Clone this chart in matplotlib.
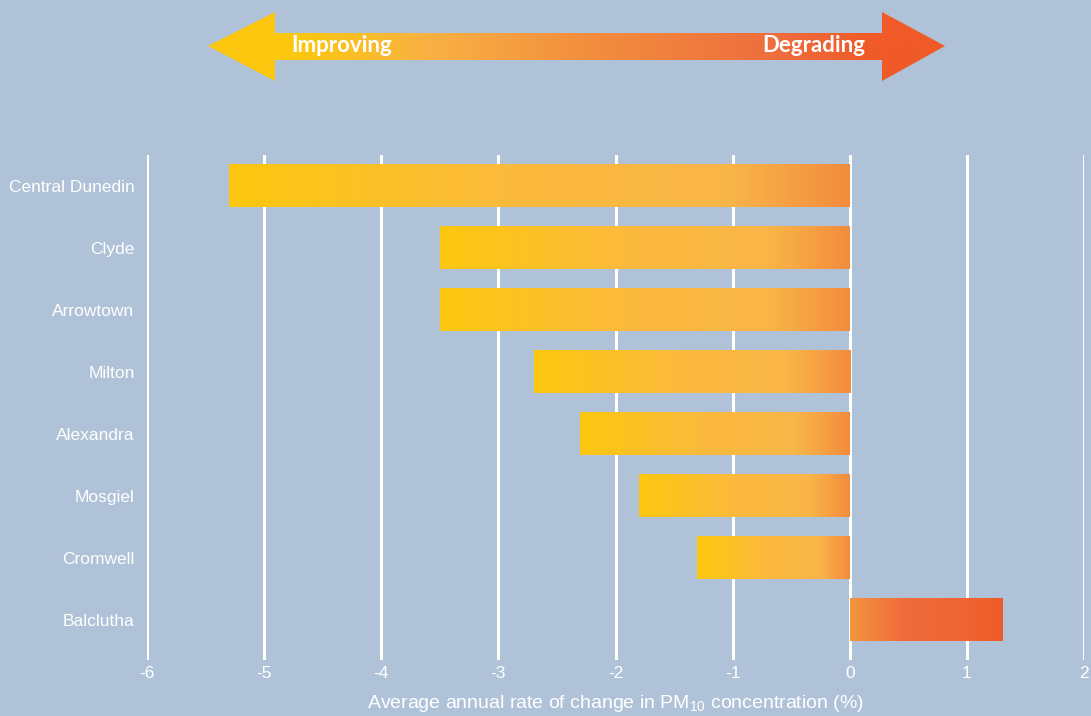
import numpy as np
import matplotlib.pyplot as plt
from matplotlib.colors import LinearSegmentedColormap
from matplotlib.patches import Polygon

sites = ["Central Dunedin", "Clyde", "Arrowtown", "Milton", "Alexandra",
         "Mosgiel", "Cromwell", "Balclutha"]
change = [-5.3, -3.5, -3.5, -2.7, -2.3, -1.8, -1.3, 1.3]
xticks = [-6, -5, -4, -3, -2, -1, 0, 1, 2]

bg = "#afc2d7"
plt.rcParams["mathtext.fontset"] = "custom"
plt.rcParams["mathtext.rm"] = "Liberation Sans"

improve_cmap = LinearSegmentedColormap.from_list(
    "improve", [(0, "#fdc70f"), (0.45, "#fbba3c"), (0.8, "#f9b648"), (1, "#f38c3e")])
degrade_cmap = LinearSegmentedColormap.from_list(
    "degrade", [(0, "#f3953f"), (0.35, "#ef6c3c"), (0.75, "#ef6434"), (1, "#f05a28")])
arrow_cmap = LinearSegmentedColormap.from_list(
    "arrow", [(0, "#fdc70f"), (0.12, "#fdc70f"), (0.3, "#f9b143"), (0.5, "#f3903e"),
              (0.78, "#ee6c3d"), (0.9, "#f05a28"), (1, "#f05a28")])

fig = plt.figure(figsize=(10.91, 7.16), dpi=100, facecolor=bg)
ax = fig.add_axes([147 / 1091, 56 / 716, 937 / 1091, 505 / 716])
ax.set_facecolor(bg)

y = np.arange(len(sites))
bars = ax.barh(y, change, height=0.68, color="none", zorder=3)
grad = np.linspace(0, 1, 256).reshape(1, -1)
for b, v in zip(bars, change):
    x0, y0, w, h = b.get_x(), b.get_y(), b.get_width(), b.get_height()
    left, right = min(x0, x0 + w), max(x0, x0 + w)
    cmap = improve_cmap if v < 0 else degrade_cmap
    ax.imshow(grad, cmap=cmap, aspect="auto", extent=(left, right, y0 + h, y0),
              zorder=3, interpolation="bilinear")

ax.set_xlim(-6, 2)
ax.set_ylim(len(sites) - 1 + 0.645, -0.5)
ax.set_xticks(xticks)
ax.set_xticklabels([str(t) for t in xticks])
ax.set_yticks(y)
ax.set_yticklabels(sites)
ax.grid(axis="x", color="white", linewidth=2.2, zorder=1)
ax.set_axisbelow(True)
for s in ax.spines.values():
    s.set_visible(False)
ax.tick_params(axis="both", length=0, colors="white", labelsize=12.5)
ax.tick_params(axis="x", pad=4)
ax.tick_params(axis="y", pad=9)
for lbl in ax.get_xticklabels() + ax.get_yticklabels():
    lbl.set_fontfamily("Liberation Sans")
ax.set_xlabel("Average annual rate of change in PM$_{10}$ concentration (%)",
              color="white", fontsize=14, fontfamily="Liberation Sans", labelpad=9)

# double-headed gradient arrow across the top
top = fig.add_axes([0, 0, 1, 1], zorder=5)
top.set_xlim(0, 1091)
top.set_ylim(716, 0)
top.axis("off")
shape = Polygon([(208, 46), (275, 12), (275, 33), (882, 33), (882, 12), (945, 46),
                 (882, 81), (882, 60), (275, 60), (275, 81)], closed=True,
                facecolor="none", edgecolor="none")
top.add_patch(shape)
img = top.imshow(grad, cmap=arrow_cmap, aspect="auto", extent=(208, 945, 81, 12),
                 interpolation="bilinear")
img.set_clip_path(shape)
top.text(291, 46, "Improving", color="white", fontsize=16, fontweight="bold",
         fontfamily="Lato", ha="left", va="center")
top.text(865, 46, "Degrading", color="white", fontsize=16, fontweight="bold",
         fontfamily="Lato", ha="right", va="center")

fig.savefig("out.png", dpi=100, facecolor=bg)
